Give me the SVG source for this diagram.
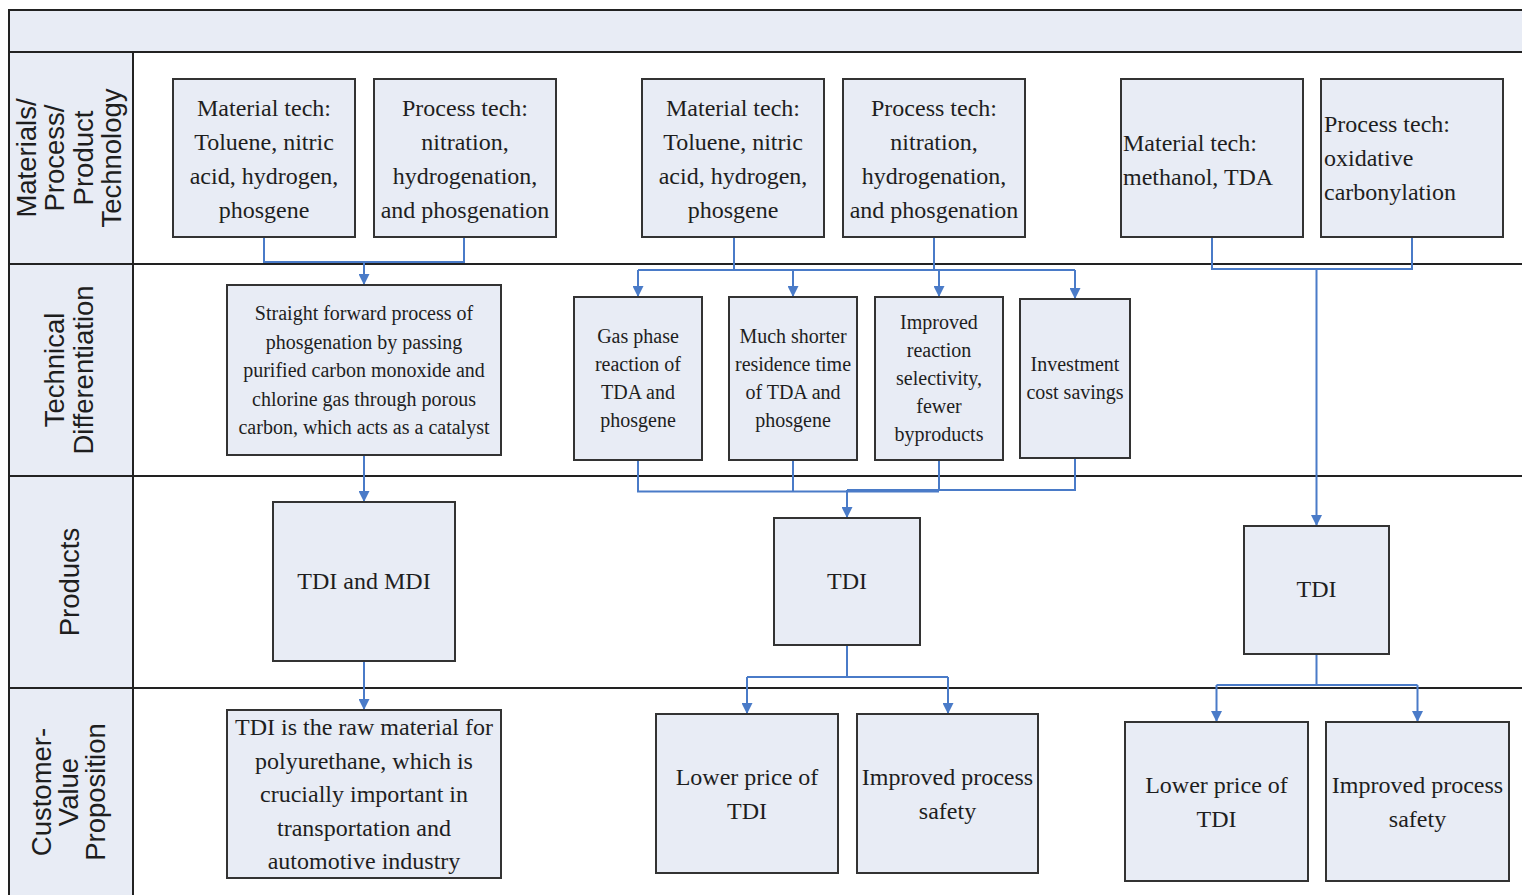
<svg xmlns="http://www.w3.org/2000/svg" width="1522" height="895" viewBox="0 0 1522 895">
<style>
.bg{fill:#ffffff}
.band{fill:#e8ecf5;stroke:#222;stroke-width:2}
.lane{stroke:#222;stroke-width:2;fill:none}
.box{fill:#e8ecf5;stroke:#333;stroke-width:2}
.t{font-family:"Liberation Serif","Times New Roman",serif;font-size:24px;fill:#1e1e1e;text-anchor:middle}
.ts{font-family:"Liberation Serif","Times New Roman",serif;font-size:20px;fill:#1e1e1e;text-anchor:middle}
.tl{font-family:"Liberation Serif","Times New Roman",serif;font-size:24px;fill:#1e1e1e;text-anchor:start}
.lab{font-family:"Liberation Sans",Arial,sans-serif;font-size:27.5px;fill:#1e1e1e;text-anchor:middle}
.c{stroke:#4a7bc8;stroke-width:2;fill:none}
.ca{stroke:#4a7bc8;stroke-width:2;fill:none;marker-end:url(#ah)}
</style>
<defs>
<marker id="ah" viewBox="0 0 10 10" refX="10" refY="5" markerWidth="12" markerHeight="11" markerUnits="userSpaceOnUse" orient="auto">
<path d="M0,0 L10,5 L0,10 z" fill="#4a7bc8"/>
</marker>
</defs>
<rect class="bg" x="0" y="0" width="1522" height="895"/>
<g id="frame">
<rect class="band" x="9" y="10" width="1520" height="42"/>
<rect class="band" x="9" y="52" width="124" height="850"/>
<line class="lane" x1="9" y1="264" x2="1530" y2="264"/>
<line class="lane" x1="9" y1="476" x2="1530" y2="476"/>
<line class="lane" x1="9" y1="688" x2="1530" y2="688"/>
</g>
<g id="lane-labels">
<text class="lab" transform="translate(0,158) rotate(-90)"><tspan x="0" y="36">Materials/</tspan><tspan x="0" y="64">Process/</tspan><tspan x="0" y="93">Product</tspan><tspan x="0" y="121">Technology</tspan></text>
<text class="lab" transform="translate(0,370) rotate(-90)"><tspan x="0" y="64">Technical</tspan><tspan x="0" y="93">Differentiation</tspan></text>
<text class="lab" transform="translate(0,582) rotate(-90)"><tspan x="0" y="79">Products</tspan></text>
<text class="lab" transform="translate(0,792) rotate(-90)"><tspan x="0" y="51">Customer-</tspan><tspan x="0" y="78">Value</tspan><tspan x="0" y="105">Proposition</tspan></text>
</g>
<g id="connectors">
<path class="c" d="M264,237 V262 H464 V237"/>
<path class="ca" d="M364,262 V285"/>
<path class="c" d="M734,237 V270"/>
<path class="c" d="M934,237 V270"/>
<path class="c" d="M638,270 H1075"/>
<path class="ca" d="M638,270 V297"/>
<path class="ca" d="M793,270 V297"/>
<path class="ca" d="M939,270 V297"/>
<path class="ca" d="M1075,270 V299"/>
<path class="c" d="M1212,237 V269 H1412 V237"/>
<path class="ca" d="M1316.5,269 V526"/>
<path class="ca" d="M364,455 V502"/>
<path class="c" d="M638,460 V491.5 H939"/>
<path class="c" d="M793,460 V491.5"/>
<path class="c" d="M939,460 V490 H1075 V458"/>
<path class="c" d="M847,490 H939"/>
<path class="ca" d="M847,490 V518"/>
<path class="ca" d="M364,661 V710"/>
<path class="c" d="M847,645 V677 M747,677 H948"/>
<path class="ca" d="M747,677 V714"/>
<path class="ca" d="M948,677 V714"/>
<path class="c" d="M1316.5,654 V685 M1216.5,685 H1417.5"/>
<path class="ca" d="M1216.5,685 V722"/>
<path class="ca" d="M1417.5,685 V722"/>
</g>
<g id="n-mat-a">
<rect class="box" x="173" y="79" width="182" height="158"/>
<text class="t"><tspan x="264" y="116">Material tech:</tspan><tspan x="264" y="150">Toluene, nitric</tspan><tspan x="264" y="184">acid, hydrogen,</tspan><tspan x="264" y="218">phosgene</tspan></text>
</g>
<g id="n-proc-a">
<rect class="box" x="374" y="79" width="182" height="158"/>
<text class="t"><tspan x="465" y="116">Process tech:</tspan><tspan x="465" y="150">nitration,</tspan><tspan x="465" y="184">hydrogenation,</tspan><tspan x="465" y="218">and phosgenation</tspan></text>
</g>
<g id="n-mat-b">
<rect class="box" x="642" y="79" width="182" height="158"/>
<text class="t"><tspan x="733" y="116">Material tech:</tspan><tspan x="733" y="150">Toluene, nitric</tspan><tspan x="733" y="184">acid, hydrogen,</tspan><tspan x="733" y="218">phosgene</tspan></text>
</g>
<g id="n-proc-b">
<rect class="box" x="843" y="79" width="182" height="158"/>
<text class="t"><tspan x="934" y="116">Process tech:</tspan><tspan x="934" y="150">nitration,</tspan><tspan x="934" y="184">hydrogenation,</tspan><tspan x="934" y="218">and phosgenation</tspan></text>
</g>
<g id="n-mat-c">
<rect class="box" x="1121" y="79" width="182" height="158"/>
<text class="tl"><tspan x="1123" y="151">Material tech:</tspan><tspan x="1123" y="185">methanol, TDA</tspan></text>
</g>
<g id="n-proc-c">
<rect class="box" x="1321" y="79" width="182" height="158"/>
<text class="tl"><tspan x="1324" y="132">Process tech:</tspan><tspan x="1324" y="166">oxidative</tspan><tspan x="1324" y="200">carbonylation</tspan></text>
</g>
<g id="n-diff-a">
<rect class="box" x="227" y="285" width="274" height="170"/>
<text class="ts"><tspan x="364" y="320">Straight forward process of</tspan><tspan x="364" y="348.5">phosgenation by passing</tspan><tspan x="364" y="377">purified carbon monoxide and</tspan><tspan x="364" y="405.5">chlorine gas through porous</tspan><tspan x="364" y="434">carbon, which acts as a catalyst</tspan></text>
</g>
<g id="n-gas">
<rect class="box" x="574" y="297" width="128" height="163"/>
<text class="ts"><tspan x="638" y="343">Gas phase</tspan><tspan x="638" y="371">reaction of</tspan><tspan x="638" y="399">TDA and</tspan><tspan x="638" y="427">phosgene</tspan></text>
</g>
<g id="n-short">
<rect class="box" x="729" y="297" width="128" height="163"/>
<text class="ts"><tspan x="793" y="343">Much shorter</tspan><tspan x="793" y="371">residence time</tspan><tspan x="793" y="399">of TDA and</tspan><tspan x="793" y="427">phosgene</tspan></text>
</g>
<g id="n-select">
<rect class="box" x="875" y="297" width="128" height="163"/>
<text class="ts"><tspan x="939" y="329">Improved</tspan><tspan x="939" y="357">reaction</tspan><tspan x="939" y="385">selectivity,</tspan><tspan x="939" y="413">fewer</tspan><tspan x="939" y="441">byproducts</tspan></text>
</g>
<g id="n-invest">
<rect class="box" x="1020" y="299" width="110" height="159"/>
<text class="ts"><tspan x="1075" y="371">Investment</tspan><tspan x="1075" y="399">cost savings</tspan></text>
</g>
<g id="n-prod-a">
<rect class="box" x="273" y="502" width="182" height="159"/>
<text class="t"><tspan x="364" y="589">TDI and MDI</tspan></text>
</g>
<g id="n-prod-b">
<rect class="box" x="774" y="518" width="146" height="127"/>
<text class="t"><tspan x="847" y="589">TDI</tspan></text>
</g>
<g id="n-prod-c">
<rect class="box" x="1244" y="526" width="145" height="128"/>
<text class="t"><tspan x="1316.5" y="597">TDI</tspan></text>
</g>
<g id="n-cvp-a">
<rect class="box" x="227" y="710" width="274" height="168"/>
<text class="t"><tspan x="364" y="735">TDI is the raw material for</tspan><tspan x="364" y="769">polyurethane, which is</tspan><tspan x="364" y="802">crucially important in</tspan><tspan x="364" y="836">transportation and</tspan><tspan x="364" y="869">automotive industry</tspan></text>
</g>
<g id="n-cvp-b1">
<rect class="box" x="656" y="714" width="182" height="159"/>
<text class="t"><tspan x="747" y="785">Lower price of</tspan><tspan x="747" y="819">TDI</tspan></text>
</g>
<g id="n-cvp-b2">
<rect class="box" x="857" y="714" width="181" height="159"/>
<text class="t"><tspan x="947.5" y="785">Improved process</tspan><tspan x="947.5" y="819">safety</tspan></text>
</g>
<g id="n-cvp-c1">
<rect class="box" x="1125" y="722" width="183" height="159"/>
<text class="t"><tspan x="1216.5" y="793">Lower price of</tspan><tspan x="1216.5" y="827">TDI</tspan></text>
</g>
<g id="n-cvp-c2">
<rect class="box" x="1326" y="722" width="183" height="159"/>
<text class="t"><tspan x="1417.5" y="793">Improved process</tspan><tspan x="1417.5" y="827">safety</tspan></text>
</g>
</svg>
